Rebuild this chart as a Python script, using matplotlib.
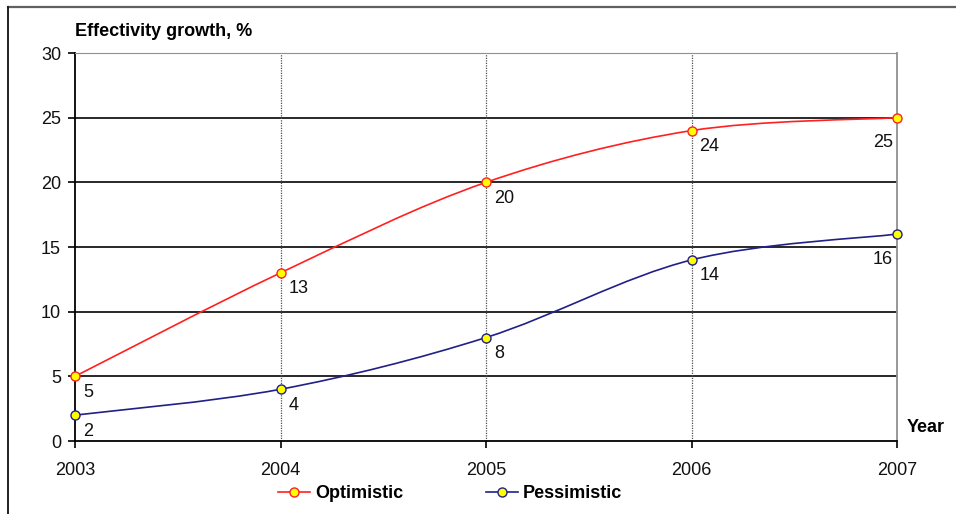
import numpy as np
import matplotlib
matplotlib.use("Agg")
import matplotlib.pyplot as plt
from matplotlib.path import Path
from matplotlib.patches import PathPatch
from matplotlib.lines import Line2D

plt.rcParams['font.family'] = ['Liberation Sans', 'DejaVu Sans']

years = [2003, 2004, 2005, 2006, 2007]
optimistic = [5, 13, 20, 24, 25]
pessimistic = [2, 4, 8, 14, 16]
y_ticks = [0, 5, 10, 15, 20, 25, 30]

RED = '#ff2020'
NAVY = '#202088'


def smooth_path(xs, ys):
    # spreadsheet-style smoothed line: cubic bezier, tangents from neighbours / 6
    pts = np.column_stack([xs, ys]).astype(float)
    n = len(pts)
    verts = [pts[0]]
    codes = [Path.MOVETO]
    for i in range(n - 1):
        p_prev = pts[i - 1] if i > 0 else pts[i]
        p_next2 = pts[i + 2] if i + 2 < n else pts[i + 1]
        c1 = pts[i] + (pts[i + 1] - p_prev) / 6.0
        c2 = pts[i + 1] - (p_next2 - pts[i]) / 6.0
        verts += [c1, c2, pts[i + 1]]
        codes += [Path.CURVE4] * 3
    return Path(verts, codes)


fig = plt.figure(figsize=(9.56, 5.14), dpi=100)
ax = fig.add_axes([75 / 956, 73 / 514, 822 / 956, 388 / 514])

ax.set_xlim(2003, 2007)
ax.set_ylim(0, 30)
ax.set_xticks(years)
ax.set_yticks(y_ticks)

for y in y_ticks[1:-1]:
    ax.axhline(y, color='#282828', lw=1.4, zorder=1)
for x in years[1:-1]:
    ax.axvline(x, color='#505050', lw=0.9, ls=(0, (1, 1)), zorder=1)

for vals, col in [(optimistic, RED), (pessimistic, NAVY)]:
    ax.add_patch(PathPatch(smooth_path(years, vals), fill=False,
                           edgecolor=col, lw=1.2, zorder=3))
    ax.plot(years, vals, ls='none', marker='o', ms=6.5, mfc='#ffff00',
            mec=col, mew=1.0, zorder=4, clip_on=False)

# value labels sit below-right of each point; the last one is kept inside the plot
for vals in (optimistic, pessimistic):
    for i, (x, v) in enumerate(zip(years, vals)):
        last = i == len(years) - 1
        ax.annotate(str(v), (x, v), xytext=(-4, -25) if last else (8, -16),
                    textcoords='offset pixels', ha='right' if last else 'left',
                    va='center', fontsize=13, color='#111111', zorder=5)

ax.spines['left'].set_color('black')
ax.spines['bottom'].set_color('black')
ax.spines['left'].set_linewidth(1.3)
ax.spines['bottom'].set_linewidth(1.3)
ax.spines['top'].set_color('#909090')
ax.spines['right'].set_color('#909090')
ax.spines['right'].set_linewidth(1.3)
ax.tick_params(axis='both', direction='out', length=5, width=1.2,
               color='black', labelsize=13, labelcolor='#111111')
ax.tick_params(axis='y', pad=5)
ax.tick_params(axis='x', pad=10)

fig.text(75 / 956, 1 - 31 / 514, 'Effectivity growth, %', fontsize=13,
         fontweight='bold', ha='left', va='center')
fig.text(907 / 956, 1 - 427 / 514, 'Year', fontsize=13, fontweight='bold',
         ha='left', va='center')

handles = [
    Line2D([], [], color=RED, lw=1.2, marker='o', ms=6.5, mfc='#ffff00', mec=RED),
    Line2D([], [], color=NAVY, lw=1.2, marker='o', ms=6.5, mfc='#ffff00', mec=NAVY),
]
fig.legend(handles, ['Optimistic', 'Pessimistic'], loc='center',
           bbox_to_anchor=(450 / 956, 1 - 494 / 514), ncol=2, frameon=False,
           handlelength=1.8, handletextpad=0.25, columnspacing=4.6,
           prop={'size': 13, 'weight': 'bold'})

# outer chart frame (top and left edges)
fig.add_artist(Line2D([8 / 956, 1.0], [1 - 7 / 514, 1 - 7 / 514],
                      transform=fig.transFigure, color='#606060', lw=1.6))
fig.add_artist(Line2D([8 / 956, 8 / 956], [1 - 7 / 514, 0.0],
                      transform=fig.transFigure, color='#202020', lw=1.4))

fig.savefig('out.png', dpi=100)
